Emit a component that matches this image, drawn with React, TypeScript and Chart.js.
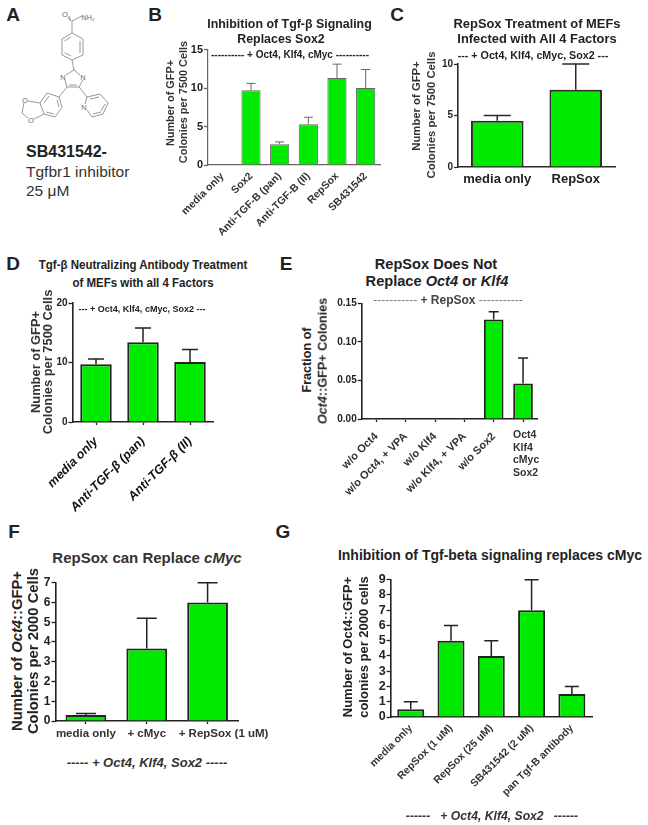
import React, { useEffect, useRef } from "react";
import { Chart, registerables } from "chart.js";

Chart.register(...registerables);

const FONT = "'Liberation Sans', Arial, sans-serif";
const GREEN = "#00ea00";

// Panel B
const bLabels = ["media only", "Sox2", "Anti-TGF-B (pan)", "Anti-TGF-B (II)", "RepSox", "SB431542"];
const bValues = [0, 9.7, 2.7, 5.3, 11.3, 10];
const bUpper = [0, 10.6, 3.0, 6.2, 13.1, 12.4];
// Panel C
const cLabels = ["media only", "RepSox"];
const cValues = [4.5, 7.5];
const cUpper = [5, 10];
// Panel D
const dLabels = ["media only", "Anti-TGF-β (pan)", "Anti-TGF-β (II)"];
const dValues = [9.7, 13.4, 10.1];
const dUpper = [10.6, 15.8, 12.2];
// Panel E
const eLabels = ["w/o Oct4", "w/o Oct4, + VPA", "w/o Klf4", "w/o Klf4, + VPA", "w/o Sox2", ""];
const eStacked = ["Oct4", "Klf4", "cMyc", "Sox2"];
const eValues = [0, 0, 0, 0, 0.129, 0.046];
const eUpper = [0, 0, 0, 0, 0.139, 0.079];
// Panel F
const fLabels = ["media only", "+ cMyc", "+ RepSox (1 uM)"];
const fValues = [0.3, 3.67, 6];
const fUpper = [0.38, 5.2, 7];
// Panel G
const gLabels = ["media only", "RepSox (1 uM)", "RepSox (25 uM)", "SB431542 (2 uM)", "pan Tgf-B antibody"];
const gValues = [0.5, 5, 4, 7, 1.5];
const gUpper = [1, 6, 5, 9, 2];

type PanelCfg = {
  box: [number, number, number, number];
  plot: [number, number, number, number];
  labels: string[];
  values: number[];
  upper: number[];
  max: number;
  step: number;
  decimals?: number;
  cap: number;
  ink: string;
  barBorder: number;
  axisW: number;
  tickFont: any;
  xFont: any;
  xColor?: string;
  rotation: number;
  xTick: number;
  xPad: number;
  indent?: Record<number, number>;
};

const panels: PanelCfg[] = [
  {
    box: [170, 30, 225, 220], plot: [208, 49.5, 380, 165], labels: bLabels, values: bValues, upper: bUpper,
    max: 15, step: 5, cap: 9, ink: "#666", barBorder: 1, axisW: 1.2,
    tickFont: { size: 11, weight: "bold" }, xFont: { size: 10.5, weight: "bold" }, xColor: "#333", rotation: 45, xTick: 0, xPad: 5,
  },
  {
    box: [420, 50, 215, 140], plot: [458, 64, 615, 167], labels: cLabels, values: cValues, upper: cUpper,
    max: 10, step: 5, cap: 27, ink: "#2a2a2a", barBorder: 2, axisW: 1.6,
    tickFont: { size: 10, weight: "bold" }, xFont: { size: 13, weight: "bold" }, xColor: "#222", rotation: 0, xTick: 0, xPad: 5,
  },
  {
    box: [40, 290, 200, 230], plot: [72.5, 303, 213.5, 422], labels: dLabels, values: dValues, upper: dUpper,
    max: 20, step: 10, cap: 16, ink: "#222", barBorder: 2, axisW: 1.6,
    tickFont: { size: 10, weight: "bold" }, xFont: { size: 12.5, weight: "bold", style: "italic" }, xColor: "#111", rotation: 45, xTick: 3, xPad: 9,
  },
  {
    box: [330, 290, 230, 215], plot: [361.7, 303.3, 537.7, 419], labels: eLabels, values: eValues, upper: eUpper,
    max: 0.15, step: 0.05, decimals: 2, cap: 10, ink: "#222", barBorder: 2, axisW: 1.6,
    tickFont: { size: 10, weight: "bold" }, xFont: { size: 11, weight: "bold" }, xColor: "#333", rotation: 45, xTick: 3, xPad: 8,
  },
  {
    box: [25, 570, 255, 180], plot: [55.5, 582.7, 238, 721], labels: fLabels, values: fValues, upper: fUpper,
    max: 7, step: 1, cap: 20, ink: "#222", barBorder: 2, axisW: 1.6,
    tickFont: { size: 12, weight: "bold" }, xFont: { size: 11.5, weight: "bold" }, xColor: "#333", rotation: 0, xTick: 3, xPad: 3,
    indent: { 2: 10 },
  },
  {
    box: [350, 565, 260, 245], plot: [390.6, 579.7, 592, 717], labels: gLabels, values: gValues, upper: gUpper,
    max: 9, step: 1, cap: 14, ink: "#222", barBorder: 2, axisW: 1.6,
    tickFont: { size: 12.5, weight: "bold" }, xFont: { size: 10.5, weight: "bold" }, xColor: "#333", rotation: 45, xTick: 0, xPad: 5,
  },
];

function Panel({ cfg }: { cfg: PanelCfg }) {
  const ref = useRef<HTMLCanvasElement>(null);
  useEffect(() => {
    const [bx, by, bw, bh] = cfg.box;
    const [pl, pt, pr, pb] = cfg.plot;
    const errorBars = {
      id: "errorBars",
      beforeDatasetsDraw(chart: any) {
        const { ctx } = chart;
        const yScale = chart.scales.y;
        const meta = chart.getDatasetMeta(0);
        ctx.save();
        ctx.strokeStyle = cfg.ink;
        ctx.lineWidth = cfg.barBorder === 1 ? 1 : 1.5;
        cfg.upper.forEach((u, i) => {
          if (u <= cfg.values[i]) return;
          const x = meta.data[i].x;
          const y0 = yScale.getPixelForValue(cfg.values[i]);
          const y1 = yScale.getPixelForValue(u);
          ctx.beginPath();
          ctx.moveTo(x, y0);
          ctx.lineTo(x, y1);
          ctx.moveTo(x - cfg.cap / 2, y1);
          ctx.lineTo(x + cfg.cap / 2, y1);
          ctx.stroke();
        });
        ctx.restore();
      },
    };
    const chart = new Chart(ref.current!, {
      type: "bar",
      data: {
        labels: cfg.labels,
        datasets: [
          {
            data: cfg.values,
            backgroundColor: GREEN,
            borderColor: cfg.ink,
            borderWidth: cfg.barBorder,
            borderSkipped: "bottom",
            barPercentage: 0.67,
            categoryPercentage: 1,
          },
        ],
      },
      plugins: [errorBars],
      options: {
        animation: false,
        responsive: false,
        maintainAspectRatio: false,
        layout: { padding: { left: pl - bx - 35, top: pt - by, right: bx + bw - pr, bottom: 0 } },
        plugins: { legend: { display: false }, tooltip: { enabled: false }, title: { display: false } },
        scales: {
          x: {
            type: "category",
            grid: {
              display: true,
              offset: false,
              drawOnChartArea: false,
              drawTicks: cfg.xTick > 0,
              tickLength: cfg.xTick,
              tickColor: cfg.ink,
              tickWidth: 1.3,
            },
            border: { display: true, color: cfg.ink, width: cfg.axisW },
            ticks: {
              autoSkip: false,
              minRotation: cfg.rotation,
              maxRotation: cfg.rotation,
              padding: cfg.xPad,
              color: cfg.xColor,
              font: { family: FONT, ...cfg.xFont },
              callback: (_v: any, i: number) =>
                "\u00a0".repeat(cfg.indent?.[i] ?? 0) + cfg.labels[i],
            },
            afterFit(s: any) {
              s.height = by + bh - pb;
              s.paddingLeft = 0;
              s.paddingRight = 0;
            },
          },
          y: {
            min: 0,
            max: cfg.max,
            grid: { drawOnChartArea: false, drawTicks: true, tickLength: 4, tickColor: cfg.ink, tickWidth: 1.3 },
            border: { display: true, color: cfg.ink, width: cfg.axisW },
            ticks: {
              stepSize: cfg.step,
              autoSkip: false,
              padding: 1,
              color: "#222",
              font: { family: FONT, ...cfg.tickFont },
              callback: (v: any) => (cfg.decimals ? Number(v).toFixed(cfg.decimals) : String(Math.round(Number(v)))),
            },
            afterFit(s: any) {
              s.width = 35;
              s.paddingTop = 0;
              s.paddingBottom = 0;
            },
          },
        },
      } as any,
    });
    return () => chart.destroy();
  }, [cfg]);
  const [bx, by, bw, bh] = cfg.box;
  return (
    <canvas
      ref={ref}
      width={bw}
      height={bh}
      style={{ position: "absolute", left: bx, top: by, width: bw, height: bh }}
    />
  );
}

function T(props: {
  x: number;
  y: number;
  s: number;
  w?: number | string;
  r?: number;
  sx?: number;
  c?: string;
  it?: boolean;
  left?: boolean;
  children: React.ReactNode;
}) {
  const { x, y, s, w = "bold", r = 0, sx = 1, c = "#222", it, left, children } = props;
  return (
    <div
      style={{
        position: "absolute",
        left: x,
        top: y,
        fontFamily: FONT,
        fontSize: s,
        fontWeight: w as any,
        fontStyle: it ? "italic" : "normal",
        color: c,
        whiteSpace: "pre",
        lineHeight: 1,
        transform: `translate(${left ? "0" : "-50%"},-50%) rotate(${r}deg) scaleX(${sx})`,
      }}
    >
      {children}
    </div>
  );
}

const bonds: number[][] = [
  [72, 21, 72, 33], [72, 33, 83, 39], [83, 39, 83, 55], [83, 55, 72, 60], [72, 60, 62, 55], [62, 55, 62, 39], [62, 39, 72, 33],
  [80, 41, 80, 53], [71, 37, 64.5, 41], [71, 56, 64.5, 52.5],
  [72, 21, 82, 16], [69, 16, 71, 21], [70.5, 21, 67.5, 17],
  [72, 60, 74, 70], [74, 70, 80, 75], [83, 80, 79, 87], [79, 87, 67, 87], [67, 87, 65, 80], [74, 70, 66, 75], [77, 85, 69, 85],
  [67, 87, 59, 97], [59, 97, 47, 93], [47, 93, 40, 103], [40, 103, 44, 114], [44, 114, 55, 117], [55, 117, 62, 107], [62, 107, 59, 97],
  [49, 96, 44, 103], [46, 112, 54, 114], [59, 107, 57, 100],
  [40, 103, 28, 101], [24, 103, 22, 113], [22, 113, 28, 118], [34, 119, 44, 114],
  [79, 87, 87, 97], [87, 97, 100, 94], [100, 94, 108, 103], [108, 103, 103, 114], [103, 114, 92, 117], [92, 117, 87, 110], [85, 104, 87, 97],
  [90, 99, 99, 97], [105, 104, 101, 111], [93, 114, 101, 112],
];

function Molecule() {
  return (
    <svg width={130} height={130} style={{ position: "absolute", left: 0, top: 0 }}>
      {bonds.map((b, i) => (
        <line key={i} x1={b[0]} y1={b[1]} x2={b[2]} y2={b[3]} stroke="#999" strokeWidth={1} />
      ))}
      {[
        ["O", 65, 14],
        ["N", 63, 77],
        ["N", 83, 77],
        ["N", 84, 107],
        ["O", 25, 100],
        ["O", 31, 120],
      ].map((a, i) => (
        <text key={i} x={a[1] as number} y={(a[2] as number) + 3} fontFamily={FONT} fontSize={7.5} fill="#666" textAnchor="middle">
          {a[0]}
        </text>
      ))}
      <text x={88} y={20} fontFamily={FONT} fontSize={7} fill="#666" textAnchor="middle">
        NH₂
      </text>
    </svg>
  );
}

export default function App() {
  return (
    <div style={{ position: "absolute", left: 0, top: 0, width: 648, height: 825, overflow: "hidden", background: "#fff", filter: "blur(0.45px)" }}>
      <Molecule />
      {panels.map((p, i) => (
        <Panel key={i} cfg={p} />
      ))}

      <T x={13} y={14} s={19}>A</T>
      <T x={155} y={14} s={19}>B</T>
      <T x={397} y={14} s={19}>C</T>
      <T x={13} y={263} s={19}>D</T>
      <T x={286} y={263} s={19}>E</T>
      <T x={14} y={531} s={19}>F</T>
      <T x={283} y={531} s={19}>G</T>

      <T x={26} y={152} s={16} left c="#222">SB431542-</T>
      <T x={26} y={172} s={15.5} w="normal" left c="#333">Tgfbr1 inhibitor</T>
      <T x={26} y={191} s={15.5} w="normal" left c="#333">25 μM</T>

      <T x={289.5} y={24} s={12.4}>Inhibition of Tgf-β Signaling</T>
      <T x={281} y={39} s={12.4}>Replaces Sox2</T>
      <T x={290} y={55} s={10}>---------- + Oct4, Klf4, cMyc ----------</T>
      <T x={170} y={103} s={10.9} r={-90} c="#333">Number of GFP+</T>
      <T x={183} y={102} s={10.9} r={-90} c="#333">Colonies per 7500 Cells</T>

      <T x={537} y={24} s={12.9}>RepSox Treatment of MEFs</T>
      <T x={537} y={39} s={12.9}>Infected with All 4 Factors</T>
      <T x={533} y={55} s={10.7}>--- + Oct4, Klf4, cMyc, Sox2 ---</T>
      <T x={417} y={106} s={11.3} r={-90} c="#333">Number of GFP+</T>
      <T x={432} y={115} s={11.3} r={-90} c="#333">Colonies per 7500 Cells</T>

      <T x={143} y={265} s={12.5} sx={0.92}>Tgf-β Neutralizing Antibody Treatment</T>
      <T x={143} y={283} s={12.5} sx={0.92}>of MEFs with all 4 Factors</T>
      <T x={142} y={309} s={9.5} sx={0.95}>--- + Oct4, Klf4, cMyc, Sox2 ---</T>
      <T x={36} y={362} s={12.9} r={-90} c="#333">Number of GFP+</T>
      <T x={48} y={362} s={12.9} r={-90} c="#333">Colonies per 7500 Cells</T>

      <T x={436} y={264} s={14.6}>RepSox Does Not</T>
      <T x={437} y={281} s={14.6}>Replace <i>Oct4</i> or <i>Klf4</i></T>
      <T x={448} y={300} s={12} c="#444">
        <span style={{ fontWeight: "normal", color: "#777" }}>-----------</span> + RepSox <span style={{ fontWeight: "normal", color: "#777" }}>-----------</span>
      </T>
      <T x={307} y={360} s={12.6} r={-90}>Fraction of</T>
      <T x={323} y={361} s={12.6} r={-90}><i>Oct4</i>::GFP+ Colonies</T>
      {eStacked.map((t, i) => (
        <T key={t} x={513} y={434 + i * 12.6} s={10.5} left c="#333">{t}</T>
      ))}

      <T x={147} y={557} s={15} c="#333">RepSox can Replace <i>cMyc</i></T>
      <T x={17} y={651} s={14.8} r={-90}>Number of <i>Oct4</i>::GFP+</T>
      <T x={33} y={651} s={14.8} r={-90}>Colonies per 2000 Cells</T>
      <T x={147} y={762} s={13} it c="#333">----- + Oct4, Klf4, Sox2 -----</T>

      <T x={490} y={555} s={14}>Inhibition of Tgf-beta signaling replaces cMyc</T>
      <T x={347} y={647} s={13} r={-90}>Number of Oct4::GFP+</T>
      <T x={363} y={647} s={13} r={-90}>colonies per 2000 cells</T>
      <T x={492} y={816} s={12.2} it c="#333">------   + Oct4, Klf4, Sox2   ------</T>
    </div>
  );
}
